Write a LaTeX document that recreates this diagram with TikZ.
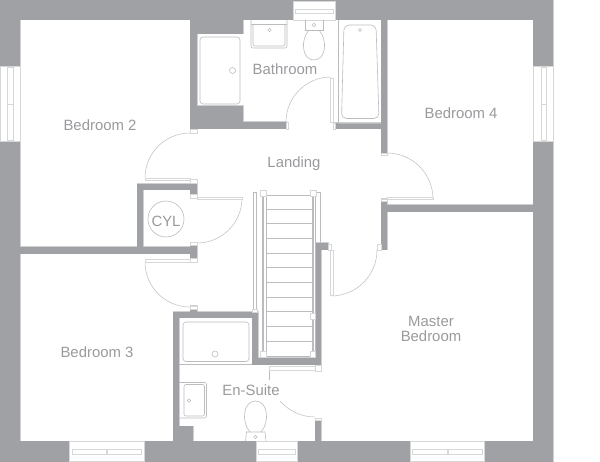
\documentclass[tikz,border=0pt]{standalone}
\usepackage{fontspec}
\setmainfont{Liberation Sans}
\definecolor{wallgray}{HTML}{A0A1A4}
\definecolor{edgegray}{HTML}{D6D7D8}
\definecolor{linegray}{HTML}{BBBCBE}
\definecolor{labelgray}{HTML}{999A9D}
\tikzset{
	wall/.style={preaction={draw=edgegray,line width=1pt},fill=wallgray},
	fitting/.style={draw=linegray,line width=0.6pt},
	frame/.style={draw=edgegray,line width=0.7pt,fill=white},
	doorline/.style={draw=linegray,line width=0.5pt},
	post/.style={draw=edgegray,line width=0.6pt,fill=white},
	roomlabel/.style={text=labelgray,font=\fontsize{14.9}{15.5}\selectfont,align=center,inner sep=0pt}
}
\begin{document}
\begin{tikzpicture}[x=1pt,y=1pt,yscale=-1]
	\useasboundingbox (0,0) rectangle (600,462);
	% walls
	\path [wall]
		(0,0) rectangle (553,20) (0,0) rectangle (20,462)
		(533,0) rectangle (553,462) (0,441) rectangle (553,462)
		(190,20) rectangle (243,34) (190,20) rectangle (197,133) (197,106) rectangle (243,129)
		(243,122) rectangle (286,129) (333,123) rectangle (381,129) (381,20) rectangle (387,153)
		(137,184) rectangle (197,190) (137,184) rectangle (143,254) (190,180) rectangle (197,197)
		(20,247) rectangle (197,254) (190,243) rectangle (197,262) (190,306) rectangle (197,312)
		(173,312) rectangle (258,318) (173,312) rectangle (179,441) (173,426) rectangle (193,441)
		(252,312) rectangle (258,365) (252,358) rectangle (321,365)
		(315,243) rectangle (321,371) (315,243) rectangle (328,250) (315,418) rectangle (321,441)
		(381,199) rectangle (387,250) (387,205) rectangle (533,212);
	% windows
	\begin{scope}[every path/.style={frame}]
		\path (0,66) rectangle (20,141);
		\path (533,66) rectangle (553,141);
		\path (293,1) rectangle (335,20);
		\path (69,441.5) rectangle (144,461);
		\path (256,441.5) rectangle (297,461);
		\path (410,441.5) rectangle (484,461);
		\path (7.5,67) rectangle (13,104);
		\path (7.5,104) rectangle (13,140);
		\path (541,67) rectangle (546,104);
		\path (541,104) rectangle (546,140);
		\path (295,9) rectangle (333,13);
		\path (72,449) rectangle (106,454);
		\path (107,449) rectangle (141,454);
		\path (258,449) rectangle (295,454);
		\path (412,449) rectangle (447,454);
		\path (448,449) rectangle (482,454);
	\end{scope}
	% doors
	\begin{scope}[every path/.style={doorline}]
		\path (190,133) arc [start angle=-90,end angle=-180,radius=45];
		\path (242,198) arc [start angle=0,end angle=90,radius=45];
		\path (145,262) arc [start angle=180,end angle=90,radius=45];
		\path (286,122) arc [start angle=180,end angle=270,radius=45];
		\path (387,153) arc [start angle=-90,end angle=0,radius=46];
		\path (377,250) arc [start angle=0,end angle=90,radius=46];
		\path (315,417) arc [start angle=90,end angle=139,radius=46];
		\path (269,369) -- (269,380);
	\end{scope}
	\begin{scope}[every path/.style={post}]
		\path (145,178) rectangle (190,180);
		\path (197,197) rectangle (242,199);
		\path (145,259.5) rectangle (190,262);
		\path (330.5,78) rectangle (333,122);
		\path (387,197) rectangle (433,199);
		\path (330.5,250) rectangle (333,295.5);
		\path (269,366) rectangle (315,370.5);
		\path (190,179) rectangle (197,183);
		\path (190,194) rectangle (197,198);
		\path (190,242) rectangle (197,245);
		\path (190,258) rectangle (197,262);
		\path (190,306) rectangle (197,309);
		\path (190,133) rectangle (197,129.5);
		\path (286,122.5) rectangle (288,129);
		\path (333,123) rectangle (335,129);
		\path (381,153) rectangle (387,155);
		\path (381,199) rectangle (387,201);
		\path (377,244) rectangle (381,250);
		\path (328,244) rectangle (331,250);
		\path (315,418) rectangle (321,420);
		\path (315,371) rectangle (321,365);
	\end{scope}
	% stairs
	\begin{scope}[every path/.style={fitting}]
		\path (263,195) rectangle (313,356);
		\path (253,192) rectangle (256.5,310);
		\path (262,196) rectangle (266,352);
		\path (312,196) rectangle (315,352);
		\path (316.5,192) -- (320.5,192) -- (320.5,243);
		\path (266,209) -- (312,209);
		\path (266,223.5) -- (312,223.5);
		\path (266,238) -- (312,238);
		\path (266,253) -- (312,253);
		\path (266,267.5) -- (312,267.5);
		\path (266,282) -- (312,282);
		\path (266,297) -- (312,297);
		\path (266,311.5) -- (312,311.5);
		\path (266,326) -- (312,326);
		\path (266,341) -- (312,341);
	\end{scope}
	\begin{scope}[every path/.style={post}]
		\path (260,190) rectangle (266,196);
		\path (310.5,190) rectangle (316.5,196);
		\path (260,351) rectangle (266,357);
		\path (310.5,351) rectangle (315,357);
		\path (310.5,313) rectangle (315,319);
		\path (252.5,309) rectangle (257.5,312);
	\end{scope}
	% sanitary ware
	\begin{scope}[every path/.style={fitting}]
		\path [rounded corners=3pt] (200,37) rectangle (240,104);
		\path (232.5,70.5) circle (3);
		\path [rounded corners=2pt] (251,20) -- (251,48) -- (287,48) -- (287,20);
		\path (251,24) -- (287,24);
		\path [rounded corners=2pt] (253,24) -- (253,46) -- (285,46) -- (285,24);
		\path (269.5,30) circle (1.7);
		\path (305,20) -- (305,30) -- (323,30) -- (323,20);
		\path (314,25) circle (1.7);
		\path (309,30) .. controls (300,40) and (302,60) .. (314,60) .. controls (326,60) and (328,40) .. (319,30);
		\path (338.5,20) -- (338.5,123) -- (381,123);
		\path [rounded corners=5pt] (344,25) -- (376,25) -- (379,118.5) -- (341.5,118.5) -- cycle;
		\path (360,30) circle (1.5);
		\path [rounded corners=3pt] (183,322) rectangle (249,361.5);
		\path (215,354) circle (3);
		\path (179,364.5) -- (252,364.5);
		\path [rounded corners=2pt] (179,382.5) -- (206.5,382.5) -- (206.5,418) -- (179,418);
		\path [rounded corners=2pt] (184,384.5) -- (204.5,384.5) -- (204.5,416) -- (184,416) -- cycle;
		\path (189,400.5) circle (1.7);
		\path (245.5,441) -- (246.5,432) -- (265,432) -- (266,441);
		\path (255.5,437) circle (1.7);
		\path (250,432) .. controls (241,422) and (243,401) .. (255.5,401) .. controls (268,401) and (270,422) .. (261,432);
		\path (166,219) circle (18);
	\end{scope}
	% rooms
	\begin{scope}[every node/.style={roomlabel}]
		\node (bedtwo) at (100,125.5) {Bedroom 2};
		\node (bath) at (285,69) {Bathroom};
		\node (bedfour) at (461,113) {Bedroom 4};
		\node (landing) at (294,163.5) {Landing};
		\node (cyl) at (166,221) {CYL};
		\node (bedthree) at (97,352) {Bedroom 3};
		\node (ensuite) at (251,390.5) {En-Suite};
		\node (master) at (431,329) {Master\\Bedroom};
	\end{scope}
\end{tikzpicture}
\end{document}
